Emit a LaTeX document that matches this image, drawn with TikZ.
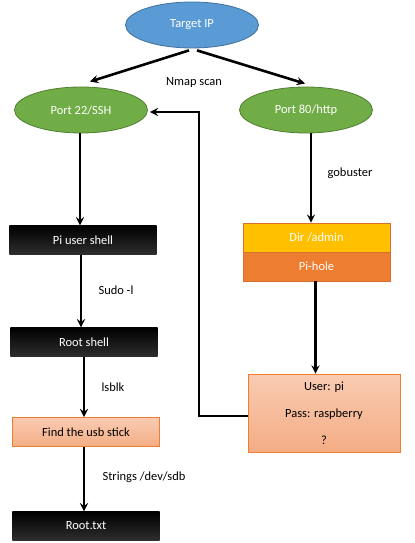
\documentclass[tikz,border=0pt]{standalone}
\usepackage{fontspec}
\setmainfont{Carlito}
\usetikzlibrary{shapes.geometric}
\definecolor{ipblue}{HTML}{5B9BD5}
\definecolor{ipblueedge}{HTML}{41719C}
\definecolor{portgreen}{HTML}{70AD47}
\definecolor{portgreenedge}{HTML}{507E32}
\definecolor{diryellow}{HTML}{FFC000}
\definecolor{piorange}{HTML}{ED7D31}
\definecolor{salmontop}{HTML}{F9CBB2}
\definecolor{salmonbot}{HTML}{F4AD85}
\tikzset{
  oval/.style={ellipse, draw, line width=0.8bp, text=white, minimum width=133bp, minimum height=46bp},
  shellbox/.style={rectangle, top color=black, bottom color=black!82, text=white, minimum width=147bp, minimum height=29bp},
  salmonbox/.style={rectangle, draw=piorange, line width=0.8bp, top color=salmontop, bottom color=salmonbot, minimum width=147bp, minimum height=29bp},
  webbox/.style={rectangle, draw=piorange!90!black, line width=0.6bp, text=white, minimum width=147bp, minimum height=29bp},
  flow/.style={->, line width=2.6bp},
  lbl/.style={text=black}
}
\begin{document}
\begin{tikzpicture}[>=stealth, x=1bp, y=-1bp, font=\fontsize{12.5}{15}\selectfont]
    \useasboundingbox (0,0) rectangle (414,543);

    % Scan
    \node[oval, fill=ipblue, draw=ipblueedge] (target) at (192,25) {Target IP};
    \node[oval, fill=portgreen, draw=portgreenedge] (ssh) at (81,110) {Port 22/SSH};
    \node[oval, fill=portgreen, draw=portgreenedge] (http) at (306,110) {Port 80/http};
    \node[lbl] (nmaplbl) at (194,83) {Nmap scan};

    \draw[flow] ([xshift=-3bp, yshift=-2bp]target.south) -- ([xshift=9bp, yshift=5bp]ssh.north);
    \draw[flow] ([xshift=5bp, yshift=-2bp]target.south) -- ([xshift=-1bp, yshift=3bp]http.north);

    % Left branch
    \node[shellbox] (pishell) at (83,240) {Pi user shell};
    \node[shellbox] (rootshell) at (84,342) {Root shell};
    \node[salmonbox] (usb) at (86,432) {Find the usb stick};
    \node[shellbox] (roottxt) at (86,526) {Root.txt};

    \draw[flow] ([xshift=-1bp]ssh.south) -- ([xshift=-1bp]ssh.south |- pishell.north);
    \draw[flow] ([xshift=-2bp]pishell.south) -- ([xshift=-2bp]pishell.south |- rootshell.north);
    \node[lbl] (sudolbl) at (116,290) {Sudo -l};
    \draw[flow] (rootshell.south) -- (rootshell.south |- usb.north);
    \node[lbl] (lsblklbl) at (113,387) {lsblk};
    \draw[flow] ([xshift=-2bp]usb.south) -- ([xshift=-2bp]usb.south |- roottxt.north);
    \node[lbl] (stringslbl) at (144,477) {Strings /dev/sdb};

    % Right branch
    \node[webbox, fill=diryellow] (dir) at (316.5,237.5) {Dir /admin};
    \node[webbox, fill=piorange] (pihole) at (316.5,266.5) {Pi-hole};
    \node[salmonbox, minimum width=152bp, minimum height=78bp, align=center,
          font=\fontsize{12.5}{27}\selectfont] (creds) at (324,413) {User: pi\\Pass: raspberry\\?};

    \draw[flow] ([xshift=5bp]http.south) -- ([xshift=5bp]http.south |- dir.north);
    \node[lbl] (gobusterlbl) at (350,173) {gobuster};
    \draw[flow] ([xshift=-1bp]pihole.south) -- ([xshift=-1bp]pihole.south |- creds.north);

    % Back to SSH
    \coordinate (bend) at (199,0);
    \draw[flow] ([yshift=-3bp]creds.west) -- ([yshift=-3bp]creds.west -| bend) |- ([xshift=2bp, yshift=-2bp]ssh.east);
\end{tikzpicture}
\end{document}
